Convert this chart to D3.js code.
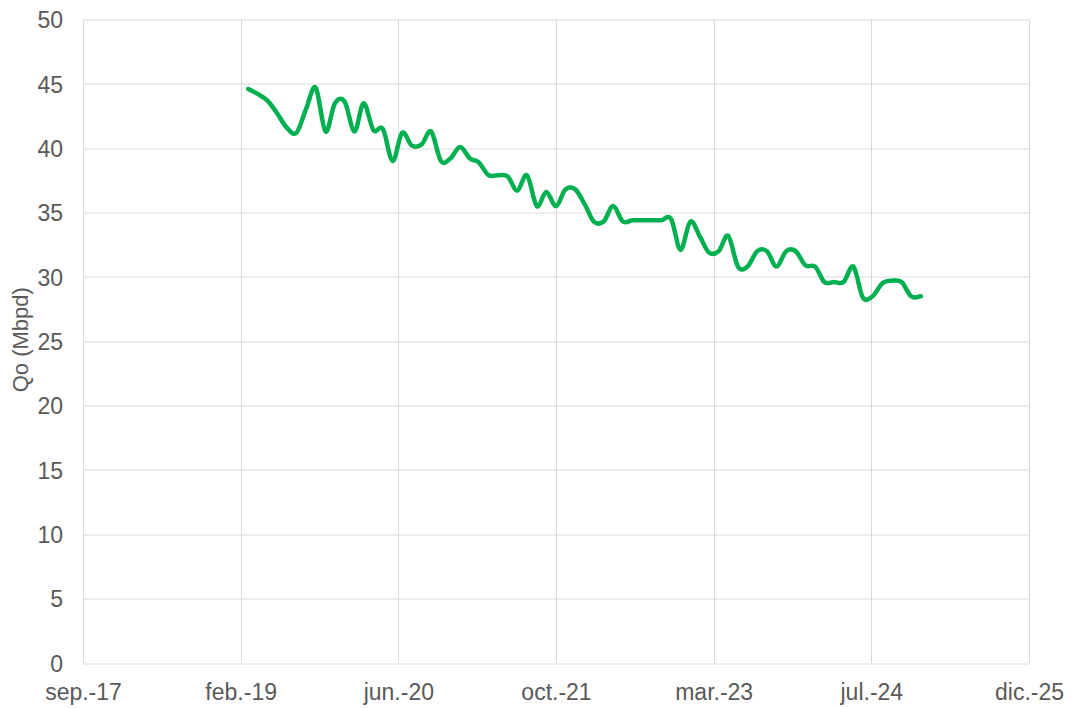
<!DOCTYPE html>
<html>
<head>
<meta charset="utf-8">
<script src="https://cdn.jsdelivr.net/npm/d3@7"></script>
<style>
  body { margin: 0; background: #fff; }
  svg text { font-family: "Liberation Sans", Arial, sans-serif; fill: #595959; }
</style>
</head>
<body>
<div id="chart"></div>
<script>
// monthly dates (end of month)
var dates = [
  "2019-02-28","2019-03-31","2019-04-30","2019-05-31","2019-06-30","2019-07-31","2019-08-31","2019-09-30","2019-10-31","2019-11-30","2019-12-31",
  "2020-01-31","2020-02-29","2020-03-31","2020-04-30","2020-05-31","2020-06-30","2020-07-31","2020-08-31","2020-09-30","2020-10-31","2020-11-30","2020-12-31",
  "2021-01-31","2021-02-28","2021-03-31","2021-04-30","2021-05-31","2021-06-30","2021-07-31","2021-08-31","2021-09-30","2021-10-31","2021-11-30","2021-12-31",
  "2022-01-31","2022-02-28","2022-03-31","2022-04-30","2022-05-31","2022-06-30","2022-07-31","2022-08-31","2022-09-30","2022-10-31","2022-11-30","2022-12-31",
  "2023-01-31","2023-02-28","2023-03-31","2023-04-30","2023-05-31","2023-06-30","2023-07-31","2023-08-31","2023-09-30","2023-10-31","2023-11-30","2023-12-31",
  "2024-01-31","2024-02-29","2024-03-31","2024-04-30","2024-05-31","2024-06-30","2024-07-31","2024-08-31","2024-09-30","2024-10-31","2024-11-30","2024-12-31"
];

// oil rate, Mbpd
var qo = [
  44.6, 44.2, 43.7, 42.7, 41.6, 41.2, 43.1, 44.7, 41.3, 43.5, 43.6,
  41.3, 43.5, 41.4, 41.5, 39.0, 41.2, 40.2, 40.3, 41.3, 39.0, 39.2, 40.1,
  39.2, 38.9, 37.9, 37.9, 37.8, 36.7, 37.9, 35.5, 36.6, 35.5, 36.8, 36.8,
  35.6, 34.3, 34.3, 35.5, 34.3, 34.4, 34.4, 34.4, 34.4, 34.5, 32.1, 34.3,
  33.1, 31.9, 32.0, 33.2, 30.8, 30.8, 32.0, 32.0, 30.8, 32.0, 32.0, 30.9,
  30.8, 29.6, 29.6, 29.6, 30.8, 28.4, 28.5, 29.5, 29.7, 29.6, 28.5, 28.5
];

// x axis ticks (every 500 days)
var xTickDates = ["2017-09-22","2019-02-04","2020-06-18","2021-10-31","2023-03-15","2024-07-27","2025-12-09"];
var xTickLabels = ["sep.-17","feb.-19","jun.-20","oct.-21","mar.-23","jul.-24","dic.-25"];
var yTicks = [0, 5, 10, 15, 20, 25, 30, 35, 40, 45, 50];

var width = 1071, height = 708;
var margin = { top: 19.5, right: 42, bottom: 45, left: 83 };
var innerW = width - margin.left - margin.right,
    innerH = height - margin.top - margin.bottom;

var parse = d3.utcParse("%Y-%m-%d");
var data = dates.map(function (d, i) { return { date: parse(d), value: qo[i] }; });
var tickDates = xTickDates.map(parse);

var svg = d3.select("#chart")
    .append("svg")
    .attr("width", width)
    .attr("height", height)
    .append("g")
    .attr("transform", "translate(" + margin.left + "," + margin.top + ")");

var x = d3.scaleUtc()
    .domain([tickDates[0], tickDates[tickDates.length - 1]])
    .range([0, innerW]);

var y = d3.scaleLinear()
    .domain([0, 50])
    .range([innerH, 0]);

// gridlines
svg.append("g")
    .selectAll("line")
    .data(yTicks)
    .enter()
    .append("line")
    .attr("x1", 0)
    .attr("x2", innerW)
    .attr("y1", function (d) { return Math.round(y(d)) + 0.5; })
    .attr("y2", function (d) { return Math.round(y(d)) + 0.5; })
    .attr("stroke", "#d9d9d9")
    .attr("stroke-width", 1);

svg.append("g")
    .selectAll("line")
    .data(tickDates)
    .enter()
    .append("line")
    .attr("x1", function (d) { return Math.round(x(d)) + 0.5; })
    .attr("x2", function (d) { return Math.round(x(d)) + 0.5; })
    .attr("y1", 0)
    .attr("y2", innerH)
    .attr("stroke", "#d9d9d9")
    .attr("stroke-width", 1);

// Y axis
var yAxis = svg.append("g")
    .call(d3.axisLeft(y).tickValues(yTicks).tickSize(0).tickPadding(20));
yAxis.select(".domain").remove();
yAxis.selectAll("text").style("font-size", "23px").attr("dy", "0.36em");

// X axis
var xAxis = svg.append("g")
    .attr("transform", "translate(0," + innerH + ")")
    .call(d3.axisBottom(x)
        .tickValues(tickDates)
        .tickFormat(function (d, i) { return xTickLabels[i]; })
        .tickSize(0)
        .tickPadding(21));
xAxis.select(".domain").remove();
xAxis.selectAll("text").style("font-size", "23px");

// axis title
svg.append("text")
    .attr("transform", "translate(" + (27.5 - margin.left) + "," + (339.7 - margin.top) + ")rotate(-90)")
    .attr("text-anchor", "middle")
    .style("font-size", "22px")
    .text("Qo (Mbpd)");

// line
var line = d3.line()
    .x(function (d) { return x(d.date); })
    .y(function (d) { return y(d.value); })
    .curve(d3.curveCardinal);

svg.append("path")
    .datum(data)
    .attr("fill", "none")
    .attr("stroke", "#00b050")
    .attr("stroke-width", 4.5)
    .attr("stroke-linecap", "round")
    .attr("stroke-linejoin", "round")
    .attr("d", line);
</script>
</body>
</html>
